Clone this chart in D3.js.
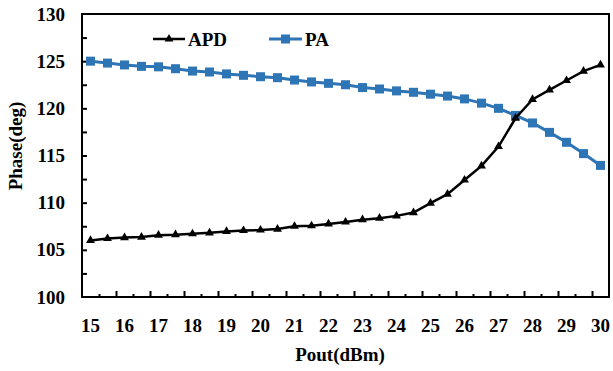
<!DOCTYPE html>
<html>
<head>
<meta charset="utf-8">
<script src="https://cdn.jsdelivr.net/npm/d3@7"></script>
<style>
  html, body { margin: 0; padding: 0; background: #fff; }
  svg { display: block; }
  text { font-family: "Liberation Serif", "Times New Roman", serif; font-weight: bold; fill: #000; }
</style>
</head>
<body>
<svg id="chart" width="613" height="371"></svg>
<script>
// Output power sweep, 15 to 30 dBm in 0.5 dB steps
const pout = [15, 15.5, 16, 16.5, 17, 17.5, 18, 18.5, 19, 19.5, 20, 20.5, 21, 21.5, 22, 22.5,
              23, 23.5, 24, 24.5, 25, 25.5, 26, 26.5, 27, 27.5, 28, 28.5, 29, 29.5, 30];
// Phase (deg) of the analog predistorter
const apd = [106.0, 106.2, 106.3, 106.35, 106.55, 106.6, 106.7, 106.8, 106.95, 107.05, 107.1,
             107.2, 107.5, 107.55, 107.75, 107.95, 108.2, 108.35, 108.6, 108.95, 109.95, 110.9,
             112.4, 113.9, 115.95, 118.95, 120.95, 121.95, 122.95, 123.95, 124.6];
// Phase (deg) of the power amplifier
const pa = [125.0, 124.8, 124.6, 124.45, 124.4, 124.2, 123.95, 123.85, 123.65, 123.5, 123.35,
            123.25, 123.0, 122.8, 122.65, 122.5, 122.2, 122.05, 121.85, 121.7, 121.5, 121.3,
            121.0, 120.55, 120.0, 119.25, 118.45, 117.45, 116.4, 115.2, 113.95];
const xTickLabels = [15, 16, 17, 18, 19, 20, 21, 22, 23, 24, 25, 26, 27, 28, 29, 30];
const yTickLabels = [100, 105, 110, 115, 120, 125, 130];
const seriesNames = ["APD", "PA"];

const svg = d3.select("#chart");
const plotL = 82, plotR = 609, plotT = 14, plotB = 297;
const blue = "#2E75B6";

const x = d3.scaleBand().domain(pout).range([plotL, plotR]).padding(0);
const cx = v => x(v) + x.bandwidth() / 2;
const y = d3.scaleLinear().domain([100, 130]).range([plotB, plotT]);
// boundaries between categories, for tick marks
const edge = d3.scaleLinear().domain([0, pout.length]).range([plotL, plotR]);

// X tick marks (inward), longer at every second boundary
const majorX = d3.range(2, pout.length, 2);
const minorX = d3.range(1, pout.length, 2);
svg.append("g").attr("transform", `translate(0,${plotB})`)
  .call(d3.axisBottom(edge).tickValues(majorX).tickSizeInner(-6).tickSizeOuter(0).tickFormat(""))
  .call(g => g.select(".domain").remove())
  .selectAll("line").attr("stroke", "#000").attr("stroke-width", 2);
svg.append("g").attr("transform", `translate(0,${plotB})`)
  .call(d3.axisBottom(edge).tickValues(minorX).tickSizeInner(-3).tickSizeOuter(0).tickFormat(""))
  .call(g => g.select(".domain").remove())
  .selectAll("line").attr("stroke", "#000").attr("stroke-width", 2);

// X labels
const xl = svg.append("g").attr("transform", `translate(0,${plotB})`)
  .call(d3.axisBottom(x).tickValues(xTickLabels).tickSize(0).tickPadding(22))
  .call(g => g.select(".domain").remove());
xl.selectAll("text").style("font-size", "19px").attr("font-family", null);

// Y tick marks (inward) every 2.5
svg.append("g").attr("transform", `translate(${plotL},0)`)
  .call(d3.axisLeft(y).tickValues(d3.range(102.5, 130, 2.5)).tickSizeInner(-5).tickSizeOuter(0).tickFormat(""))
  .call(g => g.select(".domain").remove())
  .selectAll("line").attr("stroke", "#000").attr("stroke-width", 2);

// Y labels
const yl = svg.append("g").attr("transform", `translate(${plotL},0)`)
  .call(d3.axisLeft(y).tickValues(yTickLabels).tickSize(0).tickPadding(17))
  .call(g => g.select(".domain").remove());
yl.selectAll("text").style("font-size", "19px").attr("font-family", null);

// Plot frame
svg.append("rect").attr("x", plotL).attr("y", plotT)
  .attr("width", plotR - plotL).attr("height", plotB - plotT)
  .attr("fill", "none").attr("stroke", "#000").attr("stroke-width", 2);

// Axis titles
svg.append("text").attr("x", 340).attr("y", 361).attr("text-anchor", "middle")
  .style("font-size", "19px").text("Pout(dBm)");
svg.append("text").attr("transform", "translate(22,146) rotate(-90)").attr("text-anchor", "middle")
  .style("font-size", "19px").text("Phase(deg)");

const line = d3.line().x((d, i) => cx(pout[i])).y(d => y(d));
const tri = d3.symbol().type(d3.symbolTriangle).size(34);

// PA series
svg.append("path").datum(pa).attr("d", line)
  .attr("fill", "none").attr("stroke", blue).attr("stroke-width", 3);
svg.append("g").selectAll("rect").data(pa).join("rect")
  .attr("x", (d, i) => cx(pout[i]) - 4.5).attr("y", d => y(d) - 4.5)
  .attr("width", 9).attr("height", 9).attr("fill", blue);

// APD series
svg.append("path").datum(apd).attr("d", line)
  .attr("fill", "none").attr("stroke", "#000").attr("stroke-width", 2.5);
svg.append("g").selectAll("path").data(apd).join("path")
  .attr("transform", (d, i) => `translate(${cx(pout[i])},${y(d)})`)
  .attr("d", tri).attr("fill", "#000");

// Legend
const lg = svg.append("g");
lg.append("line").attr("x1", 153).attr("x2", 185).attr("y1", 39).attr("y2", 39)
  .attr("stroke", "#000").attr("stroke-width", 2.5);
lg.append("path").attr("transform", "translate(169,39)").attr("d", tri).attr("fill", "#000");
lg.append("text").attr("x", 188).attr("y", 46).style("font-size", "19px").text(seriesNames[0]);
lg.append("line").attr("x1", 269).attr("x2", 302).attr("y1", 39).attr("y2", 39)
  .attr("stroke", blue).attr("stroke-width", 3);
lg.append("rect").attr("x", 281).attr("y", 34.5).attr("width", 9).attr("height", 9).attr("fill", blue);
lg.append("text").attr("x", 305).attr("y", 46).style("font-size", "19px").text(seriesNames[1]);
</script>
</body>
</html>
